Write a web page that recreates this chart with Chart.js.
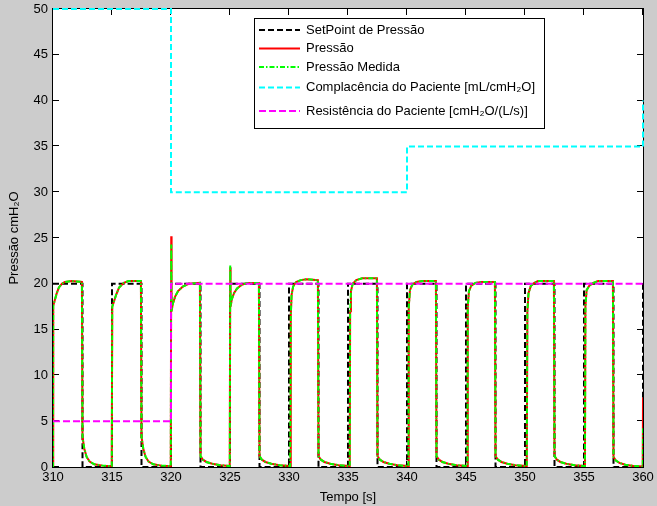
<!DOCTYPE html>
<html><head><meta charset="utf-8">
<script src="https://cdn.jsdelivr.net/npm/chart.js@4.4.1/dist/chart.umd.min.js"></script>
<style>html,body{margin:0;padding:0;background:#cccccc;}canvas{display:block;}</style>
</head><body>
<canvas id="c" width="657" height="506"></canvas>
<script>
// ---------- DATA ----------
const xTickValues = [310,315,320,325,330,335,340,345,350,355,360];
const yTickValues = [0,5,10,15,20,25,30,35,40,45,50];

const setpointTempo = [310,312.5,315,317.5,320,322.5,325,327.5,330,332.5,335,337.5,340,342.5,345,347.5,350,352.5,355,357.5,360];
const setpointValor = [20,0,20,0,20,0,20,0,20,0,20,0,20,0,20,0,20,0,20,0,20];

const complTempo = [310,320,340,360];
const complValor = [50,30,35,40];

const resistTempo = [310,320,360];
const resistValor = [5,20,20];

const tempo = [
 310.00,310.02,310.15,310.30,310.50,310.75,311.00,311.60,312.45,312.50,312.65,312.85,313.10,313.50,314.20,314.98,
 315.02,315.15,315.35,315.60,316.00,316.40,317.45,317.50,317.65,317.85,318.10,318.50,319.20,319.98,
 320.02,320.05,320.15,320.35,320.60,321.00,321.50,322.45,322.50,322.70,323.00,323.50,324.20,324.98,
 325.02,325.05,325.15,325.35,325.60,326.00,326.50,327.45,327.50,327.70,328.00,328.50,329.20,330.10,
 330.15,330.22,330.35,330.60,331.00,331.50,332.45,332.50,332.70,333.00,333.50,334.20,335.15,
 335.18,335.25,335.40,335.70,336.20,337.45,337.50,337.70,338.00,338.50,339.20,340.12,
 340.15,340.25,340.45,340.80,341.30,342.45,342.50,342.70,343.00,343.50,344.20,345.12,
 345.15,345.25,345.45,345.80,346.30,347.45,347.50,347.70,348.00,348.50,349.20,350.15,
 350.20,350.30,350.50,350.80,351.10,352.45,352.50,352.70,353.00,353.50,354.20,355.08,
 355.12,355.22,355.45,355.80,356.20,357.45,357.50,357.70,358.00,358.50,359.20,359.98,360.00
];
const pressaoMedida = [
 0,17.6,18.2,18.9,19.6,20.0,20.2,20.3,20.2,3.3,2.0,1.1,0.6,0.3,0.15,0.1,
 17.5,18.0,18.8,19.6,20.1,20.3,20.3,3.3,2.0,1.1,0.6,0.3,0.15,0.1,
 24.3,17.0,17.8,18.6,19.2,19.7,20.0,20.1,1.2,0.8,0.55,0.35,0.2,0.1,
 22.0,17.5,18.3,19.0,19.5,19.9,20.1,20.1,1.2,0.8,0.55,0.35,0.2,0.1,
 16.5,18.8,19.7,20.2,20.4,20.5,20.4,1.2,0.8,0.55,0.35,0.2,0.1,
 17.0,19.2,20.0,20.4,20.6,20.6,1.2,0.8,0.55,0.35,0.2,0.1,
 17.5,19.3,19.9,20.2,20.3,20.3,1.2,0.8,0.55,0.35,0.2,0.1,
 17.5,19.2,19.8,20.1,20.2,20.2,1.2,0.8,0.55,0.35,0.2,0.1,
 17.0,19.0,19.8,20.1,20.3,20.3,1.2,0.8,0.55,0.35,0.2,0.1,
 17.5,19.3,19.8,20.1,20.3,20.3,1.1,0.7,0.45,0.25,0.1,0.05,4.3
];
const pressao = [
 0,17.6,18.2,18.9,19.6,20.0,20.2,20.3,20.2,3.3,2.0,1.1,0.6,0.3,0.15,0.1,
 17.5,18.0,18.8,19.6,20.1,20.3,20.3,3.3,2.0,1.1,0.6,0.3,0.15,0.1,
 25.2,17.0,17.8,18.6,19.2,19.7,20.0,20.1,1.2,0.8,0.55,0.35,0.2,0.1,
 21.8,17.5,18.3,19.0,19.5,19.9,20.1,20.1,1.2,0.8,0.55,0.35,0.2,0.1,
 16.5,18.8,19.7,20.2,20.4,20.5,20.4,1.2,0.8,0.55,0.35,0.2,0.1,
 17.0,19.2,20.0,20.4,20.6,20.6,1.2,0.8,0.55,0.35,0.2,0.1,
 17.5,19.3,19.9,20.2,20.3,20.3,1.2,0.8,0.55,0.35,0.2,0.1,
 17.5,19.2,19.8,20.1,20.2,20.2,1.2,0.8,0.55,0.35,0.2,0.1,
 17.0,19.0,19.8,20.1,20.3,20.3,1.2,0.8,0.55,0.35,0.2,0.1,
 17.5,19.3,19.8,20.1,20.3,20.3,1.1,0.7,0.45,0.25,0.1,0.05,7.6
];

const labels = [
 'SetPoint de Pressão',
 'Pressão',
 'Pressão Medida',
 'Complacência do Paciente [mL/cmH\u2082O]',
 'Resistência do Paciente [cmH\u2082O/(L/s)]'
];

// ---------- CHART ----------
const FONT_FAMILY = '"Liberation Sans", Arial, sans-serif';
const pts = (t, v) => t.map((x, i) => ({x: x, y: v[i]}));

const matlabPlugin = {
  id: 'matlab',
  beforeDraw(chart) {
    const {ctx, chartArea: a} = chart;
    ctx.save();
    ctx.fillStyle = '#cccccc';
    ctx.fillRect(0, 0, chart.width, chart.height);
    ctx.fillStyle = '#ffffff';
    ctx.fillRect(a.left, a.top, a.right - a.left, a.bottom - a.top);
    ctx.restore();
  },
  beforeDatasetsDraw(chart) {
    const {ctx, chartArea: a, scales} = chart;
    ctx.save();
    ctx.strokeStyle = '#000';
    ctx.lineWidth = 1;
    ctx.strokeRect(a.left - 0.5, a.top - 0.5, a.right - a.left + 1, a.bottom - a.top + 1);
    ctx.beginPath();
    const tl = 6;
    xTickValues.forEach(v => {
      const px = Math.round(scales.x.getPixelForValue(v)) - 0.5;
      ctx.moveTo(px, a.bottom); ctx.lineTo(px, a.bottom - tl);
      ctx.moveTo(px, a.top); ctx.lineTo(px, a.top + tl);
    });
    yTickValues.forEach(v => {
      const py = Math.round(scales.y.getPixelForValue(v)) - 0.5;
      ctx.moveTo(a.left, py); ctx.lineTo(a.left + tl, py);
      ctx.moveTo(a.right, py); ctx.lineTo(a.right - tl, py);
    });
    ctx.stroke();
    ctx.restore();
  },
  afterDatasetsDraw(chart) {
    const {ctx} = chart;
    const ds = chart.data.datasets;
    const box = {x: 254.5, y: 18.5, w: 290, h: 110};
    const rows = [30, 48.5, 67, 87.5, 111];
    ctx.save();
    ctx.fillStyle = '#fff';
    ctx.fillRect(box.x, box.y, box.w, box.h);
    ctx.strokeStyle = '#000';
    ctx.lineWidth = 1;
    ctx.setLineDash([]);
    ctx.strokeRect(box.x, box.y, box.w, box.h);
    ds.forEach((d, i) => {
      const y = rows[i];
      ctx.beginPath();
      ctx.strokeStyle = d.borderColor;
      ctx.lineWidth = d.borderWidth;
      ctx.setLineDash(d.borderDash || []);
      ctx.moveTo(259, y); ctx.lineTo(300, y);
      ctx.stroke();
      ctx.setLineDash([]);
      ctx.fillStyle = '#000';
      ctx.font = '13px ' + FONT_FAMILY;
      ctx.textBaseline = 'middle';
      ctx.textAlign = 'left';
      ctx.fillText(d.label, 306, y);
    });
    ctx.restore();
  }
};

new Chart(document.getElementById('c'), {
  type: 'scatter',
  data: {
    datasets: [
      {label: labels[0], data: pts(setpointTempo, setpointValor), showLine: true, stepped: true,
       borderColor: '#000000', borderWidth: 2, borderDash: [6, 3], pointRadius: 0, order: 5},
      {label: labels[1], data: pts(tempo, pressao), showLine: true,
       borderColor: '#ff0000', borderWidth: 2, pointRadius: 0, order: 4},
      {label: labels[2], data: pts(tempo, pressaoMedida), showLine: true,
       borderColor: '#00ff00', borderWidth: 2, borderDash: [5, 2, 1.5, 2], pointRadius: 0, order: 3},
      {label: labels[3], data: pts(complTempo, complValor), showLine: true, stepped: true,
       borderColor: '#00ffff', borderWidth: 2, borderDash: [6, 3], pointRadius: 0, order: 2, clip: 3},
      {label: labels[4], data: pts(resistTempo, resistValor), showLine: true, stepped: true,
       borderColor: '#ff00ff', borderWidth: 2, borderDash: [7, 3], pointRadius: 0, order: 1}
    ]
  },
  options: {
    responsive: false,
    animation: false,
    devicePixelRatio: 1,
    layout: {padding: {top: 9, right: 14, left: 0, bottom: 0}},
    plugins: {legend: {display: false}, tooltip: {enabled: false}},
    scales: {
      x: {
        type: 'linear', min: 310, max: 360,
        afterBuildTicks: s => { s.ticks = xTickValues.map(v => ({value: v})); },
        afterFit: s => { s.height = 39; },
        grid: {display: false, drawTicks: false},
        border: {display: false},
        ticks: {color: '#000', padding: 3, font: {family: FONT_FAMILY, size: 13}, maxRotation: 0},
        title: {display: true, text: 'Tempo [s]', color: '#000', font: {family: FONT_FAMILY, size: 13}, padding: {top: 0, bottom: 1}}
      },
      y: {
        type: 'linear', min: 0, max: 50,
        afterBuildTicks: s => { s.ticks = yTickValues.map(v => ({value: v})); },
        afterFit: s => { s.width = 53; s.paddingTop = 0; s.paddingBottom = 0; },
        grid: {display: false, drawTicks: false},
        border: {display: false},
        ticks: {color: '#000', padding: 5, font: {family: FONT_FAMILY, size: 13}},
        title: {display: true, text: 'Pressão cmH\u2082O', color: '#000', font: {family: FONT_FAMILY, size: 13}, padding: {top: 7, bottom: 0}}
      }
    }
  },
  plugins: [matlabPlugin]
});
</script>
</body></html>
